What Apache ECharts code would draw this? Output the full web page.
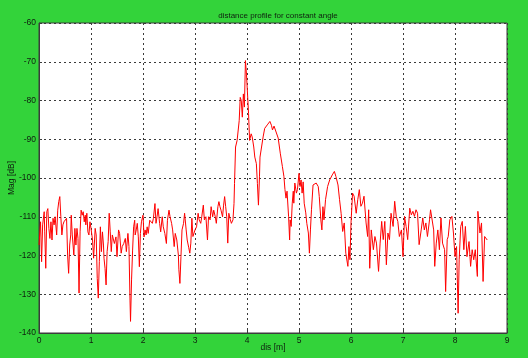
<!DOCTYPE html>
<html>
<head>
<meta charset="utf-8">
<script src="https://cdn.jsdelivr.net/npm/echarts@6/dist/echarts.min.js"></script>
<style>
  html, body { margin: 0; padding: 0; background: #33d33a; }
  #chart { width: 528px; height: 358px; }
</style>
</head>
<body>
<div id="chart"></div>
<script>
// Distance samples along the beam [m]
const dist = [
  0.00,0.01,0.03,0.05,0.07,0.10,0.11,0.13,0.15,0.17,0.19,0.21,0.23,0.25,0.27,0.29,0.31,0.34,0.36,0.38,
  0.40,0.42,0.44,0.46,0.48,0.50,0.53,0.55,0.57,0.59,0.61,0.62,0.64,0.67,0.69,0.71,0.73,0.75,0.77,0.79,
  0.81,0.83,0.85,0.87,0.89,0.90,0.92,0.94,0.96,0.98,1.00,1.03,1.05,1.08,1.10,1.12,1.14,1.16,1.18,1.20,
  1.22,1.24,1.25,1.27,1.29,1.31,1.33,1.35,1.37,1.39,1.41,1.45,1.48,1.50,1.53,1.55,1.58,1.60,1.63,1.66,
  1.68,1.71,1.73,1.75,1.76,1.78,1.80,1.82,1.84,1.85,1.87,1.89,1.91,1.93,1.95,1.97,2.00,2.02,2.04,2.06,
  2.08,2.10,2.13,2.15,2.18,2.20,2.23,2.25,2.27,2.29,2.32,2.34,2.37,2.39,2.42,2.45,2.47,2.50,2.52,2.55,
  2.57,2.60,2.62,2.65,2.68,2.69,2.71,2.73,2.75,2.78,2.80,2.83,2.85,2.88,2.90,2.92,2.94,2.96,2.97,3.00,
  3.03,3.06,3.08,3.11,3.13,3.16,3.18,3.21,3.24,3.26,3.29,3.31,3.34,3.36,3.39,3.41,3.44,3.46,3.48,3.50,
  3.53,3.55,3.57,3.59,3.61,3.63,3.65,3.68,3.70,3.73,3.75,3.76,3.78,3.81,3.83,3.85,3.87,3.89,3.91,3.93,
  3.95,3.97,3.99,4.01,4.03,4.05,4.08,4.10,4.13,4.15,4.18,4.20,4.22,4.24,4.25,4.28,4.31,4.34,4.39,4.44,
  4.47,4.49,4.52,4.55,4.60,4.64,4.68,4.71,4.73,4.75,4.77,4.80,4.82,4.83,4.85,4.87,4.89,4.90,4.92,4.95,
  4.97,5.00,5.02,5.04,5.06,5.08,5.10,5.13,5.15,5.18,5.20,5.22,5.24,5.27,5.30,5.33,5.37,5.39,5.42,5.44,
  5.46,5.48,5.51,5.55,5.59,5.64,5.68,5.71,5.75,5.78,5.81,5.84,5.87,5.90,5.94,5.96,5.98,6.00,6.03,6.06,
  6.10,6.13,6.16,6.19,6.22,6.25,6.29,6.32,6.34,6.36,6.39,6.43,6.46,6.49,6.53,6.56,6.59,6.62,6.65,6.68,
  6.71,6.74,6.77,6.81,6.84,6.87,6.90,6.93,6.97,7.00,7.03,7.06,7.09,7.13,7.16,7.19,7.22,7.25,7.28,7.31,
  7.35,7.38,7.41,7.44,7.47,7.51,7.53,7.56,7.59,7.61,7.64,7.67,7.70,7.73,7.76,7.80,7.82,7.85,7.87,7.90,
  7.94,7.97,8.00,8.03,8.06,8.08,8.11,8.14,8.17,8.20,8.23,8.27,8.30,8.33,8.36,8.39,8.43,8.44,8.48,8.51,
  8.54,8.57,8.60,8.62
];

// Received magnitude at each distance [dB]
const mag = [
  -117.3,-117.3,-111.3,-121.6,-112.1,-108.7,-113.9,-123.3,-108.7,-107.9,-113.0,-115.6,-111.3,-116.0,-110.4,-112.1,-110.0,-114.7,-108.3,-106.1,
  -104.8,-110.0,-114.7,-112.1,-111.3,-111.7,-110.4,-119.9,-124.6,-117.3,-114.7,-109.6,-114.7,-119.9,-113.0,-117.3,-113.0,-115.6,-129.7,-113.9,
  -108.3,-109.6,-108.7,-111.3,-109.6,-112.1,-109.1,-113.9,-114.7,-111.3,-113.0,-116.0,-120.7,-113.0,-114.7,-125.9,-131.0,-121.6,-112.6,-119.0,
  -113.9,-117.3,-120.7,-123.3,-127.6,-119.0,-116.4,-109.1,-113.9,-119.0,-114.7,-116.9,-115.2,-120.3,-113.4,-114.3,-119.4,-117.7,-116.9,-115.6,
  -119.0,-114.3,-117.7,-131.5,-137.0,-126.3,-118.6,-112.6,-110.9,-114.7,-113.4,-111.7,-115.2,-122.9,-114.3,-111.3,-109.6,-115.2,-113.4,-114.7,
  -112.6,-114.3,-110.9,-111.3,-111.7,-110.4,-106.6,-111.7,-110.0,-107.9,-111.7,-113.9,-110.0,-112.6,-114.3,-116.9,-110.9,-108.3,-110.0,-111.7,
  -113.4,-117.7,-114.3,-116.0,-119.9,-123.7,-127.2,-120.3,-113.4,-111.7,-109.1,-113.4,-116.0,-118.0,-119.4,-116.8,-110.4,-115.1,-114.7,-113.4,
  -112.6,-109.1,-110.8,-111.7,-110.0,-107.0,-110.8,-110.0,-116.0,-110.0,-110.8,-107.4,-110.0,-108.3,-110.0,-111.7,-107.4,-106.1,-107.4,-108.3,
  -110.0,-107.0,-104.8,-107.4,-110.0,-116.8,-109.1,-110.8,-111.7,-110.8,-106.6,-101.4,-92.0,-90.3,-90.3,-85.2,-79.2,-80.0,-84.3,-78.3,
  -81.7,-69.7,-73.2,-78.3,-83.4,-90.3,-88.6,-89.4,-92.0,-94.6,-96.3,-101.4,-107.0,-99.7,-94.6,-92.0,-89.4,-87.2,-86.3,-85.4,
  -86.4,-87.6,-86.6,-86.8,-89.7,-93.6,-97.0,-99.6,-103.0,-105.2,-103.4,-110.0,-116.0,-110.8,-112.5,-106.5,-103.4,-106.5,-101.3,-103.9,
  -103.0,-98.8,-102.2,-100.5,-103.9,-101.0,-106.5,-109.0,-111.7,-114.2,-119.4,-113.4,-108.2,-101.8,-102.2,-101.3,-102.2,-104.8,-110.8,-113.4,
  -107.4,-110.8,-105.6,-102.2,-100.5,-99.2,-98.3,-99.6,-101.8,-105.6,-109.1,-113.8,-111.6,-119.4,-122.8,-117.7,-121.1,-111.6,-103.9,-104.7,
  -109.1,-105.6,-103.0,-107.3,-106.5,-104.7,-111.6,-115.1,-108.2,-123.3,-113.4,-118.5,-115.1,-116.8,-124.1,-116.8,-111.2,-115.9,-111.2,-122.4,
  -114.2,-115.9,-109.1,-112.5,-106.0,-109.9,-111.2,-115.1,-113.4,-120.3,-109.9,-112.5,-115.9,-107.8,-109.5,-108.6,-109.9,-108.2,-109.1,-117.2,
  -113.4,-110.3,-113.4,-111.6,-115.1,-110.8,-108.2,-108.0,-113.4,-122.8,-116.8,-113.4,-118.5,-110.3,-116.8,-118.5,-129.3,-115.9,-115.1,-110.8,
  -109.9,-114.2,-120.3,-117.7,-134.9,-121.1,-112.5,-111.2,-118.5,-112.5,-120.3,-116.4,-122.8,-118.5,-121.1,-118.5,-125.4,-108.6,-114.2,-111.6,
  -126.7,-115.1,-114.7,-116.0
];

const xTicks = [0, 1, 2, 3, 4, 5, 6, 7, 8, 9];
const yTicks = [-140, -130, -120, -110, -100, -90, -80, -70, -60];

const chart = echarts.init(document.getElementById('chart'), null, { renderer: 'canvas' });

const labelFont = { fontFamily: 'Liberation Sans, Arial, sans-serif', fontSize: 8.5, color: '#0f1f0f' };
const gridLine = { show: true, lineStyle: { color: '#3a3a3a', type: [2, 3], width: 1 } };

chart.setOption({
  backgroundColor: '#33d33a',
  animation: false,
  title: {
    text: 'distance profile for constant angle',
    left: 273, top: 7, textAlign: 'center',
    textStyle: { fontFamily: 'Liberation Sans, Arial, sans-serif', fontSize: 8, fontWeight: 'normal', color: '#0f1f0f' }
  },
  grid: {
    left: 39, right: 21, top: 23, bottom: 25,
    containLabel: false, outerBoundsMode: 'none',
    show: true, backgroundColor: '#ffffff', borderColor: '#3c3c3c', borderWidth: 1
  },
  xAxis: {
    type: 'value', min: xTicks[0], max: xTicks[xTicks.length - 1], interval: 1,
    name: 'dis [m]', nameLocation: 'middle', nameGap: 10, nameMoveOverlap: false,
    nameTextStyle: labelFont,
    axisLine: { show: true, lineStyle: { color: '#3c3c3c' } },
    axisTick: { show: true, inside: true, length: 3, lineStyle: { color: '#3c3c3c' } },
    axisLabel: Object.assign({ margin: 3 }, labelFont),
    splitLine: gridLine
  },
  yAxis: {
    type: 'value', min: yTicks[0], max: yTicks[yTicks.length - 1], interval: 10,
    name: 'Mag [dB]', nameLocation: 'middle', nameGap: 23, nameMoveOverlap: false,
    nameTextStyle: labelFont,
    axisLine: { show: true, lineStyle: { color: '#3c3c3c' } },
    axisTick: { show: true, inside: true, length: 3, lineStyle: { color: '#3c3c3c' } },
    axisLabel: Object.assign({ margin: 3 }, labelFont),
    splitLine: gridLine
  },
  series: [{
    type: 'line',
    data: dist.map((d, i) => [d, mag[i]]),
    showSymbol: false,
    lineStyle: { color: '#ff0000', width: 1 },
    itemStyle: { color: '#ff0000' }
  }]
});
</script>
</body>
</html>
